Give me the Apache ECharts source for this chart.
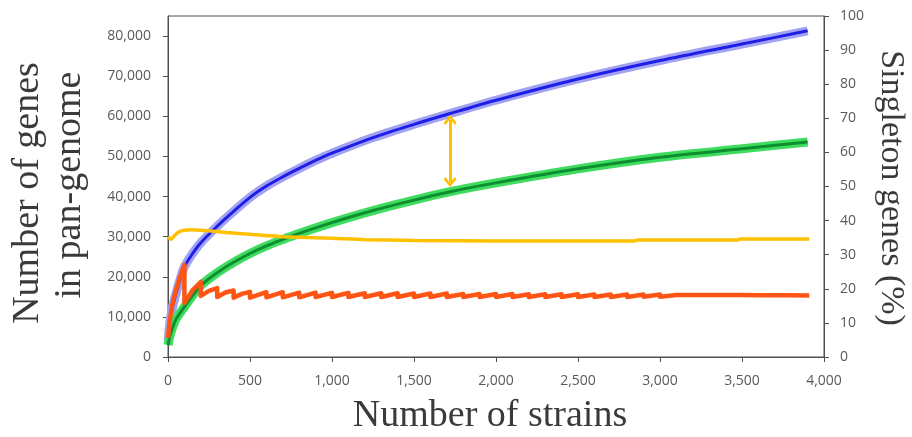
<!DOCTYPE html>
<html>
<head>
<meta charset="utf-8">
<script src="https://cdn.jsdelivr.net/npm/echarts@6/dist/echarts.min.js"></script>
<style>
html,body{margin:0;padding:0;background:#fff;}
#chart{width:912px;height:437px;}
</style>
</head>
<body>
<div id="chart"></div>
<script>
// Number of strains vs. number of genes in pan-genome (left axis)
const bluePanGenome = [[1,4000],[10,8000],[25,12000],[50,16000],[75,19500],[100,22500],[150,25800],[200,28500],[300,32600],[400,36300],[500,39800],[600,42600],[700,44900],[800,47000],[900,49000],[1000,50800],[1250,54700],[1500,58000],[1720,60700],[2000,64000],[2500,69300],[3000,73900],[3500,78000],[3900,81300]];
const greenGenes = [[1,3000],[10,5000],[25,7000],[50,9500],[100,12500],[150,15300],[205,18000],[300,21000],[400,23600],[500,25800],[600,27700],[700,29300],[800,30800],[1000,33500],[1250,36500],[1500,39100],[1720,41200],[2000,43400],[2500,46900],[3000,49800],[3500,51900],[3900,53600]];
// Singleton genes (%) (right axis)
const yellowSingleton = [[0,35.3],[10,34.8],[20,34.5],[40,35.6],[70,36.8],[100,37.2],[135,37.3],[200,37.2],[300,36.8],[360,36.5],[500,36.0],[590,35.6],[700,35.3],[1000,34.8],[1200,34.4],[1500,34.2],[2000,34.0],[2500,34.0],[2840,34.0],[2860,34.3],[3470,34.3],[3490,34.6],[3910,34.6]];
const redSingleton = [[0,5.6],[10,10.5],[25,15.0],[45,19.0],[70,23.0],[100,27.0],[100,15.8],[150,19.6],[200,22.0],[200,17.9],[250,19.4],[300,20.2],[300,17.6],[350,18.9],[400,19.5],[400,17.4],[450,18.5],[500,19.1],[500,17.4],[600,19.0],[600,17.5],[700,19.0],[700,17.5],[800,18.9],[800,17.5],[900,18.9],[900,17.6],[1000,18.8],[1000,17.6],[1100,18.8],[1100,17.6],[1200,18.7],[1200,17.6],[1300,18.7],[1300,17.6],[1400,18.7],[1400,17.6],[1500,18.6],[1500,17.6],[1600,18.6],[1600,17.6],[1700,18.6],[1700,17.6],[1800,18.5],[1800,17.6],[1900,18.5],[1900,17.6],[2000,18.5],[2000,17.6],[2100,18.5],[2100,17.6],[2200,18.4],[2200,17.6],[2300,18.4],[2300,17.6],[2400,18.4],[2400,17.6],[2500,18.4],[2500,17.6],[2600,18.3],[2600,17.6],[2700,18.3],[2700,17.6],[2800,18.3],[2800,17.6],[2900,18.3],[2900,17.7],[3000,18.3],[3000,17.7],[3100,18.2],[3100,17.7],[3200,18.2],[3200,17.7],[3300,18.2],[3300,17.7],[3400,18.2],[3400,17.7],[3500,18.2],[3500,17.7],[3600,18.1],[3600,17.7],[3700,18.1],[3700,17.7],[3800,18.1],[3800,17.7],[3910,18.0]];
// Double-headed arrow between the two curves
const arrowStrain = 1720;
const arrowGenes = [43600, 59100];

const leftTicks = {min:0, max:85000, interval:10000};
const rightTicks = {min:0, max:100, interval:10};
const xTicks = {min:0, max:4000, interval:500};

const fmt = v => v.toLocaleString('en-US');
const tickFont = {color:'#595959', fontSize:14, fontFamily:'Open Sans'};
const serif = 'Liberation Serif';
const titleCol = '#3a3a3a';
const axisCol = '#505050';
const chevron = 'path://M0,0 L6,6 L4.4,7.6 L0,3.2 L-4.4,7.6 L-6,6 Z';

function title(text, x, y, size, rot){
  return {type:'text', x:x, y:y, rotation:rot, silent:true,
    style:{text:text, fontSize:size, fontFamily:serif, fill:titleCol,
      align:'center', verticalAlign:'middle', textAlign:'center', textVerticalAlign:'middle'}};
}

const chart = echarts.init(document.getElementById('chart'), null, {renderer:'canvas'});
chart.setOption({
  animation:false,
  grid:{left:168, right:88, top:16, bottom:80, containLabel:false, outerBoundsMode:'none',
        show:true, borderColor:axisCol, borderWidth:1, backgroundColor:'transparent'},
  xAxis:{
    type:'value', min:xTicks.min, max:xTicks.max, interval:xTicks.interval,
    axisLine:{show:true, lineStyle:{color:axisCol}}, axisTick:{show:true, length:5, lineStyle:{color:axisCol}},
    splitLine:{show:false},
    axisLabel:Object.assign({formatter:fmt, margin:17}, tickFont)
  },
  yAxis:[{
    type:'value', min:leftTicks.min, max:leftTicks.max, interval:leftTicks.interval, position:'left',
    axisLine:{show:true, lineStyle:{color:axisCol}}, axisTick:{show:true, length:5, lineStyle:{color:axisCol}},
    splitLine:{show:false},
    axisLabel:Object.assign({formatter:fmt, margin:17, showMaxLabel:false}, tickFont)
  },{
    type:'value', min:rightTicks.min, max:rightTicks.max, interval:rightTicks.interval, position:'right',
    axisLine:{show:true, lineStyle:{color:axisCol}}, axisTick:{show:true, length:5, lineStyle:{color:axisCol}},
    splitLine:{show:false},
    axisLabel:Object.assign({margin:16}, tickFont)
  }],
  graphic:[
    title('Number of strains', 490, 416, 38, 0),
    title('Number of genes', 28, 193, 38, Math.PI/2),
    title('in pan-genome', 70, 185, 38, Math.PI/2),
    title('Singleton genes (%)', 891, 188, 34, -Math.PI/2)
  ],
  series:[
    {type:'line', data:bluePanGenome, yAxisIndex:0, smooth:0.3, showSymbol:false, z:1,
     lineStyle:{color:'#a2a2f3', width:9}},
    {type:'line', data:bluePanGenome, yAxisIndex:0, smooth:0.3, showSymbol:false, z:2,
     lineStyle:{color:'#1e1ee8', width:3}},
    {type:'line', data:greenGenes, yAxisIndex:0, smooth:0.3, showSymbol:false, z:3,
     lineStyle:{color:'#40dc60', width:9},
     markLine:{silent:true, symbol:[chevron, chevron], symbolSize:[13,10], label:{show:false},
       lineStyle:{color:'#ffc000', width:3, type:'solid'},
       data:[[{coord:[arrowStrain, arrowGenes[0]]},{coord:[arrowStrain, arrowGenes[1]]}]]}},
    {type:'line', data:greenGenes, yAxisIndex:0, smooth:0.3, showSymbol:false, z:4,
     lineStyle:{color:'#0d8f30', width:3}},
    {type:'line', data:yellowSingleton, yAxisIndex:1, smooth:0.2, showSymbol:false, z:5,
     lineStyle:{color:'#ffc000', width:3.5}},
    {type:'line', data:redSingleton, yAxisIndex:1, smooth:false, showSymbol:false, z:6,
     lineStyle:{color:'#ff5514', width:4.5, join:'round'}}
  ]
});
</script>
</body>
</html>
